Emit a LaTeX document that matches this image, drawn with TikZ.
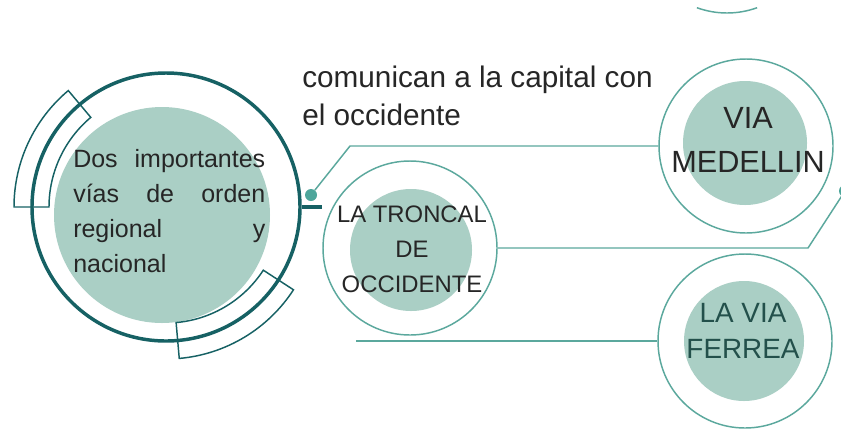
\documentclass[tikz,border=0pt]{standalone}
\usepackage{fontspec}
\setmainfont{Liberation Sans}
\definecolor{darkteal}{HTML}{166164}
\definecolor{fillc}{HTML}{AACFC5}
\definecolor{thinc}{HTML}{5BA89D}
\definecolor{dotc}{HTML}{4EA69B}
\definecolor{txt}{HTML}{262626}
\definecolor{txtteal}{HTML}{23504B}
\tikzset{
  ring/.style={circle, draw=darkteal, line width=2.6pt, minimum size=201pt, inner sep=0pt},
  bigfill/.style={circle, fill=fillc, minimum size=162pt, inner sep=0pt},
  band/.style={draw=darkteal, line width=1.1pt},
  outer/.style={circle, draw=thinc, line width=1.1pt, minimum size=130.5pt, inner sep=0pt},
  innerfill/.style={circle, fill=fillc, inner sep=0pt},
  conn/.style={draw=thinc, line width=1.1pt},
  stub/.style={draw=darkteal, line width=2.4pt},
  dotnode/.style={circle, fill=dotc, minimum size=9pt, inner sep=0pt},
}
\begin{document}
\begin{tikzpicture}[x=0.75pt,y=-0.75pt]
\useasboundingbox (0,0) rectangle (841,429);
\fill[white] (0,0) rectangle (841,429);
\clip (0,0) rectangle (841,429);

% main circle
\node[bigfill] (mainfill) at (162,215) {};
\node[ring] (main) at (166,207) {};
\draw[band, shift={(166,207)}] (-130:117) arc[start angle=-130, end angle=-180, radius=117]
  -- (-180:152) arc[start angle=-180, end angle=-130, radius=152] -- cycle;
\draw[band, shift={(166,207)}] (33:116) arc[start angle=33, end angle=85, radius=116]
  -- (85:152) arc[start angle=85, end angle=33, radius=152] -- cycle;
\node[anchor=base west, text width=144pt, inner sep=0pt, align=justify, text=txt,
      font=\fontsize{18.75}{26.25}\selectfont] (maintext) at (73,167)
  {Dos importantes\linebreak vías de orden\linebreak regional y\linebreak nacional};

% top text
\node[anchor=base west, inner sep=0pt, align=left, text=txt,
      font=\fontsize{22.3}{28.5}\selectfont] (caption) at (302,125)
  {comunican a la capital con\\el occidente};

% stub and dot connector
\coordinate (stubend) at (322,207);
\draw[stub] (main.east) -- (stubend);
\node[dotnode] (dot) at (311,195) {};
\coordinate (k1) at (350,146);

% VIA MEDELLIN
\node[innerfill, minimum size=93pt] (vmfill) at (745,143) {};
\node[outer] (vm) at (746,146) {};
\node[anchor=base, inner sep=0pt, align=center, text=txt,
      font=\fontsize{23}{33}\selectfont] (vmtext) at (748,172) {VIA\\MEDELLIN};

% LA TRONCAL DE OCCIDENTE
\node[innerfill, minimum size=91.5pt] (trfill) at (411,250) {};
\node[outer] (tr) at (410,248) {};
\node[anchor=base, inner sep=0pt, align=center, text=txt,
      font=\fontsize{17.9}{25.9}\selectfont] (trtext) at (412,292) {LA TRONCAL\\DE\\OCCIDENTE};

% LA VIA FERREA
\node[innerfill, minimum size=90pt] (fefill) at (744,341) {};
\node[outer] (fe) at (745,341) {};
\node[anchor=base, inner sep=0pt, align=center, text=txtteal,
      font=\fontsize{20.9}{27}\selectfont] (fetext) at (743,358) {LA VIA\\FERREA};

% connectors
\draw[conn] (dot) -- (k1) -- (vm.west);
\coordinate (k2) at (808,248);
\node[dotnode] (dot2) at (845,191) {};
\draw[conn] (tr.east) -- (k2) -- (dot2);
\coordinate (k4) at (356,341);
\draw[conn] (k4) -- (fe.west);

% partial circle at top
\draw[conn, shift={(727,-75)}] (70:88) arc[start angle=70, end angle=110, radius=88];
\end{tikzpicture}
\end{document}
